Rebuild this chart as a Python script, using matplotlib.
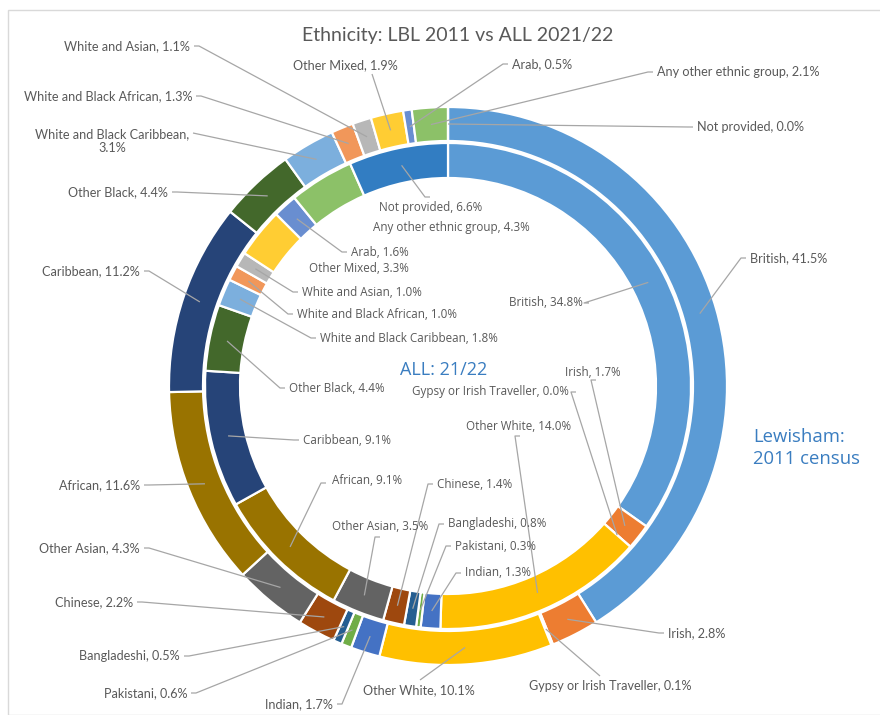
import matplotlib
matplotlib.use("Agg")
import matplotlib.pyplot as plt
from matplotlib.patches import Rectangle
import numpy as np

# ---------------- data ----------------
categories = ["British", "Irish", "Gypsy or Irish Traveller", "Other White", "Indian",
              "Pakistani", "Bangladeshi", "Chinese", "Other Asian", "African",
              "Caribbean", "Other Black", "White and Black Caribbean",
              "White and Black African", "White and Asian", "Other Mixed", "Arab",
              "Any other ethnic group", "Not provided"]
lewisham_2011 = [41.5, 2.8, 0.1, 10.1, 1.7, 0.6, 0.5, 2.2, 4.3, 11.6, 11.2, 4.4,
                 3.1, 1.3, 1.1, 1.9, 0.5, 2.1, 0.0]
all_2122 = [34.8, 1.7, 0.0, 14.0, 1.3, 0.3, 0.8, 1.4, 3.5, 9.1, 9.1, 4.4,
            1.8, 1.0, 1.0, 3.3, 1.6, 4.3, 6.6]
colors = ["#5B9BD5", "#ED7D31", "#A5A5A5", "#FFC000", "#4472C4", "#70AD47",
          "#255E91", "#9E480E", "#636363", "#997300", "#264478", "#43682B",
          "#7CAFDD", "#F1975A", "#B7B7B7", "#FFCD33", "#698ED0", "#8CC168",
          "#327DC2"]

title = "Ethnicity: LBL 2011 vs ALL 2021/22"
outer_name = "Lewisham:\n2011 census"
inner_name = "ALL: 21/22"

# ---------------- layout (pixel coords, y downward) ----------------
W, H = 880, 715
CX, CY = 448, 386
R_OUT, W_OUT = 279, 34
R_IN, W_IN = 243, 35

# label text: (x, y, ha, line_start or None)
outer_layout = [
    (750, 258, "left", (746, 258)),      # British
    (668, 633, "left", (664, 633)),      # Irish
    (610, 686, "center", (600, 676)),    # Gypsy
    (419, 690, "center", (420, 680)),    # Other White
    (333, 704, "right", (337, 704)),     # Indian
    (187, 693, "right", (191, 693)),     # Pakistani
    (180, 656, "right", (184, 656)),     # Bangladeshi
    (133, 602, "right", (137, 602)),     # Chinese
    (140, 548, "right", (144, 548)),     # Other Asian
    (140, 485, "right", (144, 485)),     # African
    (140, 271, "right", (144, 271)),     # Caribbean
    (168, 192, "right", (172, 192)),     # Other Black
    (112, 141, "center", (193, 133)),    # WBC
    (192, 96, "right", (196, 96)),       # WBA
    (190, 46, "right", (194, 46)),       # WA
    (345, 65, "center", (372, 74)),      # Other Mixed
    (512, 64, "left", (508, 64)),        # Arab
    (657, 72, "left", (653, 72)),        # Any other
    (697, 127, "left", (693, 127)),      # Not provided
]
inner_layout = [
    (509, 303, "left", (589, 303)),      # British
    (565, 372, "left", (596, 380)),      # Irish
    (412, 392, "left", (576, 392)),      # Gypsy
    (466, 426, "left", (520, 436)),      # Other White
    (465, 573, "left", (461, 573)),      # Indian
    (455, 546, "left", (451, 546)),      # Pakistani
    (448, 524, "left", (444, 524)),      # Bangladeshi
    (437, 484, "left", (433, 484)),      # Chinese
    (332, 527, "left", (380, 537)),      # Other Asian
    (332, 481, "left", (326, 483)),      # African
    (303, 440, "left", (299, 440)),      # Caribbean
    (289, 388, "left", (285, 388)),      # Other Black
    (320, 338, "left", (316, 338)),      # WBC
    (297, 314, "left", (293, 314)),      # WBA
    (302, 292, "left", (298, 292)),      # WA
    (309, 269, "left", None),            # Other Mixed
    (351, 252, "left", (347, 252)),      # Arab
    (373, 228, "left", None),            # Any other
    (379, 208, "left", (430, 197)),      # Not provided
]

TXT = "#595959"
LINE = "#A6A6A6"
BLUE = "#3A7DC0"

fig = plt.figure(figsize=(W / 100, H / 100), dpi=100)
ax = fig.add_axes([0, 0, 1, 1])

def fy(y):
    return H - y

wp_out = dict(width=W_OUT, edgecolor="white", linewidth=1.6)
wp_in = dict(width=W_IN, edgecolor="white", linewidth=1.6)
w_out, _ = ax.pie(lewisham_2011, radius=R_OUT, center=(CX, fy(CY)), startangle=90,
                  counterclock=False, colors=colors, wedgeprops=wp_out)
w_in, _ = ax.pie(all_2122, radius=R_IN, center=(CX, fy(CY)), startangle=90,
                 counterclock=False, colors=colors, wedgeprops=wp_in)

ax.set_xlim(0, W)
ax.set_ylim(0, H)
ax.set_aspect("equal")
ax.axis("off")

# frame of chart area
ax.add_patch(Rectangle((8, 0), W, fy(10), fill=False, edgecolor="#D9D9D9", lw=1))

def anchor(w, r_mid):
    a = np.deg2rad((w.theta1 + w.theta2) / 2)
    cx, cy = w.center
    return cx + r_mid * np.cos(a), cy + r_mid * np.sin(a)

def draw_labels(wedges, values, layout, r_mid, font, size):
    for w, name, v, (x, y, ha, ls) in zip(wedges, categories, values, layout):
        if name == "White and Black Caribbean" and layout is outer_layout:
            txt = f"{name},\n{v:.1f}%"
        else:
            txt = f"{name}, {v:.1f}%"
        ax.text(x, fy(y), txt, ha=ha, va="center", fontsize=size, color=TXT,
                family=font, linespacing=1.2, zorder=5)
        if ls is None:
            continue
        axp, ayp = anchor(w, r_mid)
        sx, sy = ls[0], fy(ls[1])
        if ha == "left":
            pts = [(sx, sy), (sx - 5, sy), (axp, ayp)]
        elif ha == "right":
            pts = [(sx, sy), (sx + 5, sy), (axp, ayp)]
        else:
            pts = [(sx, sy), (axp, ayp)]
        xs, ys = zip(*pts)
        ax.plot(xs, ys, color=LINE, lw=0.9, zorder=4, solid_capstyle="butt")

draw_labels(w_out, lewisham_2011, outer_layout, R_OUT - W_OUT / 2, "Lato", 9.1)
draw_labels(w_in, all_2122, inner_layout, R_IN - W_IN / 2, "Open Sans", 8.4)

ax.text(458, fy(35), title, ha="center", va="center", fontsize=14, color=TXT,
        family="Lato")
ax.text(444, fy(370), inner_name, ha="center", va="center", fontsize=13,
        color=BLUE, family="Open Sans")
ax.text(753, fy(448), outer_name, ha="left", va="center", fontsize=13.3,
        color=BLUE, family="Open Sans", linespacing=1.3)

fig.savefig("out.png", dpi=100)
